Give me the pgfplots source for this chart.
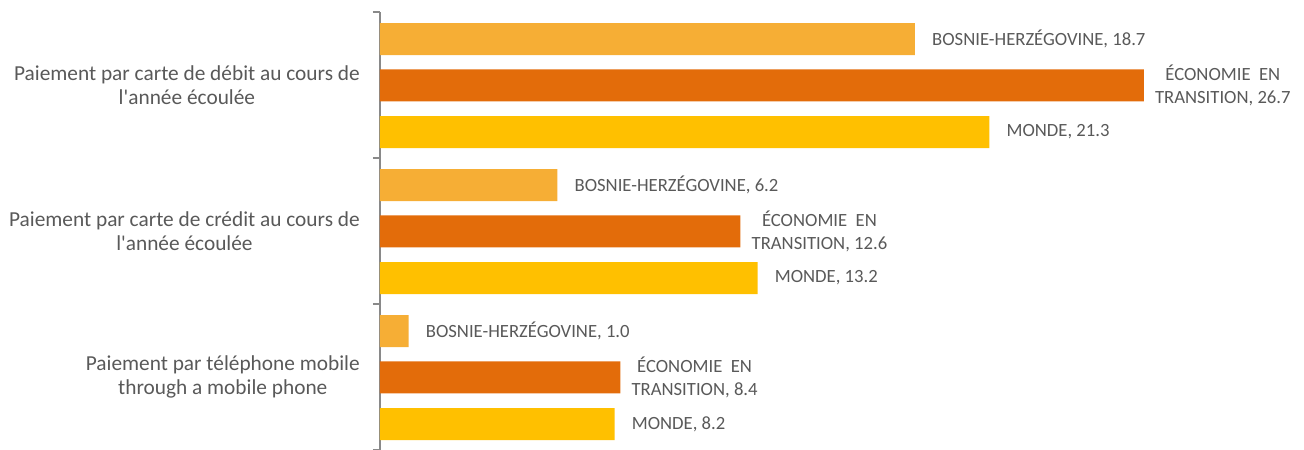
\documentclass[border=0pt]{standalone}
\usepackage{fontspec}
\setmainfont{Carlito}
\newfontfamily\calib{Carlito}
\usepackage{pgfplots}
\pgfplotsset{compat=1.18}
\definecolor{cBos}{HTML}{F6AE35}
\definecolor{cEco}{HTML}{E36C0A}
\definecolor{cMon}{HTML}{FFC000}
\definecolor{txt}{HTML}{595959}
\definecolor{axc}{HTML}{898989}
\begin{document}
\begin{tikzpicture}
\path[use as bounding box] (-285pt,0pt) rectangle (693pt,337.5pt);
\begin{axis}[
  at={(0pt,0pt)}, anchor=south west,
  scale only axis, width=693pt, height=328.5pt,
  xmin=0, xmax=32.3, ymin=0, ymax=3, y dir=reverse,
  axis x line=none, axis y line=left,
  y axis line style={-, draw=axc, line width=1.5pt},
  ytick={0,1,2,3}, yticklabels={}, tick align=outside,
  major tick length=5.25pt,
  y tick style={draw=axc, line width=1.5pt},
  xbar, bar width=0.219,
  clip=false,
  point meta=x,
  /pgf/number format/assume math mode=true,
  every node near coord/.append style={font=\calib\fontsize{14}{17.25}\selectfont, text=txt, anchor=west, inner sep=0pt, xshift=12.75pt, align=center},
]
\addplot[fill=cBos, draw=none, bar shift=0pt, nodes near coords={BOSNIE-HERZÉGOVINE, \pgfmathprintnumber[fixed,fixed zerofill,precision=1,assume math mode=true]{\pgfplotspointmeta}}]
  coordinates {(18.7,0.185) (6.2,1.185) (1.0,2.185)};
\addplot[fill=cEco, draw=none, bar shift=0pt, every node near coord/.append style={xshift=-4.5pt}, nodes near coords={ÉCONOMIE\ \ EN\\TRANSITION, \pgfmathprintnumber[fixed,fixed zerofill,precision=1,assume math mode=true]{\pgfplotspointmeta}}]
  coordinates {(26.7,0.503) (12.6,1.503) (8.4,2.503)};
\addplot[fill=cMon, draw=none, bar shift=0pt, nodes near coords={MONDE, \pgfmathprintnumber[fixed,fixed zerofill,precision=1,assume math mode=true]{\pgfplotspointmeta}}]
  coordinates {(21.3,0.822) (13.2,1.822) (8.2,2.822)};
\node[anchor=east, align=center, inner sep=0pt, text=txt, font=\calib\fontsize{16}{17.6}\selectfont, xshift=-15pt] at (axis cs:0,0.5) {Paiement par carte de débit au cours de\\l'année écoulée};
\node[anchor=east, align=center, inner sep=0pt, text=txt, font=\calib\fontsize{16}{17.6}\selectfont, xshift=-15pt] at (axis cs:0,1.5) {Paiement par carte de crédit au cours de\\l'année écoulée};
\node[anchor=east, align=center, inner sep=0pt, text=txt, font=\calib\fontsize{16}{17.6}\selectfont, xshift=-15pt] at (axis cs:0,2.5) {Paiement par téléphone mobile\\through a mobile phone};
\end{axis}
\end{tikzpicture}
\end{document}
